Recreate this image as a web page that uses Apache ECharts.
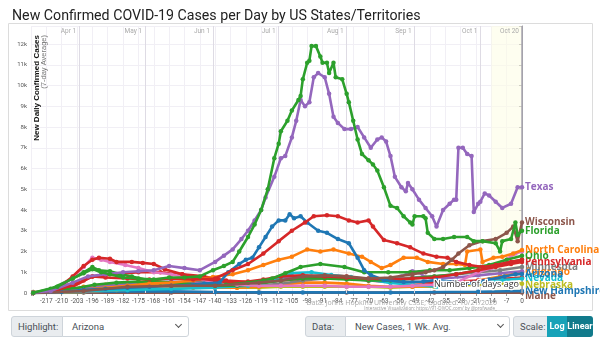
<!DOCTYPE html>
<html>
<head>
<meta charset="utf-8">
<script src="https://cdn.jsdelivr.net/npm/echarts@6/dist/echarts.min.js"></script>
<style>
html,body{margin:0;padding:0;background:#fff;}
#chart{position:absolute;left:0;top:0;width:600px;height:342px;}
.ctl{position:absolute;top:316px;height:21px;box-sizing:border-box;font-family:Roboto,'Noto Sans',sans-serif;font-size:9.5px;line-height:19px;color:#495057;border:1px solid #ced4da;white-space:nowrap;}
.lab{background:#e9ecef;padding-left:6px;}
.sel{background:#fff;padding-left:9px;}
.chev{position:absolute;top:5px;width:4px;height:4px;border-right:1.3px solid #555;border-bottom:1.3px solid #555;transform:rotate(45deg);}
.btn{color:#fff;font-weight:bold;text-align:center;border:none;font-size:9px;line-height:21px;}
</style>
</head>
<body>
<div id="chart"></div>
<div class="ctl lab" style="left:11px;width:52px;border-radius:3px 0 0 3px;">Highlight:</div>
<div class="ctl sel" style="left:62px;width:127px;border-radius:0 3px 3px 0;">Arizona<span class="chev" style="left:113px"></span></div>
<div class="ctl lab" style="left:305px;width:41px;border-radius:3px 0 0 3px;">Data:</div>
<div class="ctl sel" style="left:345px;width:165px;border-radius:0 3px 3px 0;">New Cases, 1 Wk. Avg.<span class="chev" style="left:152px"></span></div>
<div class="ctl lab" style="left:513px;width:35px;border-radius:3px 0 0 3px;">Scale:</div>
<div class="ctl btn" style="left:547px;width:20px;background:#17a2b8;">Log</div>
<div class="ctl btn" style="left:567px;width:26px;background:#117a8b;border-radius:0 3px 3px 0;">Linear</div>
<script>
// ---- axis ticks ----
const MONTH_DAYS = [-202, -172, -141, -111, -80, -49, -19, 0];
const MONTH_LABELS = ['Apr 1', 'May 1', 'Jun 1', 'Jul 1', 'Aug 1', 'Sep 1', 'Oct 1', 'Oct 20'];
const RECENT_START = -14;

// ---- series values: [days ago, thousands of cases / day (7-day avg)] ----
const TEXAS = [[-223,0.02],[-215,0.1],[-205,0.5],[-198,0.8],[-190,0.9],[-182,1.0],[-175,1.05],[-168,1.1],[-161,1.3],[-154,1.2],[-147,1.1],[-140,1.5],[-136,1.8],[-132,2.1],[-128,2.6],[-125,3.0],[-122,3.5],[-119,4.0],[-117,4.6],[-113,5.6],[-110,6.5],[-108,6.6],[-105,7.5],[-103,8.3],[-101,9.3],[-99,9.0],[-97,9.2],[-95,10.4],[-93,10.6],[-90,10.4],[-88,9.6],[-86,8.5],[-84,8.2],[-81,7.9],[-78,7.9],[-75,8.0],[-72,7.5],[-69,7.0],[-66,7.4],[-64,7.5],[-62,7.3],[-60,6.6],[-58,5.6],[-55,5.1],[-53,4.9],[-52,5.3],[-50,5.0],[-47,4.5],[-44,4.1],[-41,3.7],[-39,3.2],[-36,4.0],[-33,4.3],[-31,4.5],[-30,4.5],[-29,7.0],[-27,7.0],[-25,6.7],[-23,6.6],[-22,3.9],[-20,4.3],[-19,4.4],[-17,4.8],[-15,4.7],[-12,4.4],[-9,4.1],[-5,4.3],[-2,5.1],[0,5.1]];
const FLORIDA = [[-223,0.01],[-212,0.3],[-205,0.7],[-200,0.95],[-196,1.15],[-192,1.0],[-188,0.9],[-182,0.75],[-175,0.7],[-168,0.65],[-161,0.75],[-154,0.75],[-147,0.8],[-141,1.1],[-136,1.3],[-132,1.5],[-129,2.0],[-125,2.7],[-122,3.3],[-119,4.0],[-116,5.0],[-113,6.5],[-111,7.2],[-110,7.8],[-107,8.3],[-105,8.8],[-102,9.3],[-101,9.5],[-100,10.3],[-98,11.1],[-97,11.2],[-96,11.9],[-94,11.9],[-92,11.4],[-91,11.1],[-89,11.1],[-88,10.6],[-86,11.1],[-85,10.4],[-82,10.3],[-80,9.6],[-79,9.2],[-77,8.3],[-75,7.4],[-73,6.7],[-70,6.4],[-68,6.2],[-66,5.9],[-63,5.1],[-60,4.2],[-57,4.1],[-54,3.7],[-51,3.4],[-50,3.3],[-49,3.7],[-45,3.7],[-44,3.6],[-43,2.9],[-40,2.6],[-36,2.6],[-31,2.7],[-25,2.7],[-22,2.5],[-18,2.5],[-12,2.4],[-10,2.0],[-9,2.5],[-5,2.6],[-3,3.4],[-2,2.8],[0,3.0]];
const WISCONSIN = [[-223,0],[-200,0.1],[-180,0.3],[-160,0.35],[-140,0.35],[-120,0.5],[-110,0.6],[-100,0.8],[-90,0.85],[-80,0.8],[-70,0.7],[-60,0.75],[-50,0.9],[-44,1.0],[-40,1.1],[-36,1.25],[-32,1.6],[-29,1.9],[-24,2.3],[-18,2.5],[-12,2.6],[-7,2.9],[-4,3.2],[-2,2.5],[0,3.4]];
const ARIZONA = [[-223,0],[-210,0.05],[-200,0.15],[-190,0.2],[-180,0.25],[-170,0.3],[-160,0.35],[-150,0.4],[-145,0.45],[-138,0.5],[-134,1.0],[-129,1.4],[-126,1.6],[-123,1.7],[-120,2.2],[-117,2.7],[-114,3.2],[-111,3.5],[-108,3.5],[-106,3.8],[-104,3.6],[-101,3.7],[-98,3.4],[-93,3.0],[-89,2.9],[-84,2.6],[-79,2.4],[-75,1.7],[-72,1.1],[-69,0.87],[-63,0.63],[-54,0.53],[-45,0.55],[-39,0.63],[-30,0.53],[-27,0.4],[-22,0.5],[-15,0.65],[-8,0.8],[-3,0.9],[0,0.92]];
const GEORGIA = [[-223,0],[-213,0.1],[-205,0.4],[-200,0.6],[-196,0.8],[-190,0.75],[-180,0.7],[-170,0.65],[-160,0.7],[-150,0.65],[-140,0.7],[-132,1.1],[-125,1.4],[-118,1.9],[-111,2.5],[-105,3.0],[-99,3.4],[-95,3.7],[-89,3.75],[-84,3.7],[-79,3.5],[-75,3.4],[-70,3.5],[-68,3.2],[-63,2.55],[-57,2.4],[-51,2.2],[-45,1.9],[-39,1.75],[-34,1.7],[-30,1.5],[-24,1.35],[-18,1.25],[-12,1.35],[-5,1.5],[0,1.6]];
const PENNSYLVANIA = [[-223,0],[-212,0.2],[-205,0.8],[-200,1.3],[-196,1.6],[-193,1.7],[-188,1.65],[-185,1.5],[-178,1.5],[-173,1.45],[-168,1.4],[-163,1.15],[-155,0.9],[-147,0.7],[-140,0.6],[-133,0.5],[-125,0.55],[-118,0.65],[-110,0.8],[-100,0.85],[-90,0.8],[-80,0.75],[-70,0.7],[-60,0.65],[-50,0.7],[-40,0.75],[-30,0.9],[-20,1.1],[-12,1.25],[-5,1.4],[0,1.5]];
const MARYLAND = [[-223,0],[-205,0.3],[-196,0.8],[-185,0.9],[-175,1.0],[-165,1.0],[-155,0.9],[-145,0.8],[-135,0.6],[-120,0.5],[-100,0.7],[-90,0.85],[-80,0.8],[-70,0.6],[-60,0.55],[-40,0.5],[-20,0.6],[0,0.75]];
const NORTH_CAROLINA = [[-223,0.05],[-210,0.05],[-200,0.15],[-190,0.25],[-180,0.35],[-170,0.45],[-160,0.5],[-150,0.6],[-141,0.77],[-132,0.9],[-125,1.1],[-118,1.35],[-111,1.6],[-105,1.75],[-98,2.1],[-92,2.0],[-86,2.1],[-79,1.9],[-73,1.75],[-69,1.5],[-64,1.2],[-60,1.35],[-54,1.7],[-48,1.7],[-43,1.5],[-36,1.4],[-30,1.4],[-26,1.35],[-25,2.0],[-19,2.1],[-18,1.5],[-13,1.7],[-9,1.75],[-4,1.9],[0,2.07]];
const OHIO = [[-223,0],[-205,0.2],[-195,0.4],[-185,0.5],[-175,0.55],[-165,0.5],[-155,0.45],[-145,0.4],[-135,0.4],[-125,0.5],[-118,0.6],[-114,0.7],[-108,0.95],[-101,1.25],[-92,1.4],[-81,1.25],[-72,1.0],[-61,1.0],[-51,1.0],[-42,1.1],[-33,1.1],[-24,1.2],[-15,1.35],[-7,1.6],[0,1.8]];
const MICHIGAN = [[-223,0],[-215,0.2],[-205,0.7],[-200,1.0],[-196,1.25],[-193,1.1],[-188,1.05],[-183,0.9],[-178,0.8],[-170,0.6],[-160,0.5],[-150,0.4],[-140,0.35],[-130,0.35],[-120,0.45],[-110,0.6],[-100,0.7],[-90,0.7],[-80,0.65],[-70,0.6],[-60,0.6],[-50,0.7],[-40,0.8],[-30,0.9],[-20,1.1],[-10,1.4],[0,1.6]];
const ILLINOIS = [[-223,0],[-215,0.1],[-208,0.5],[-205,0.77],[-200,1.25],[-196,1.7],[-192,1.6],[-188,1.5],[-181,1.35],[-175,1.2],[-168,1.0],[-160,0.9],[-150,0.7],[-140,0.55],[-130,0.4],[-120,0.35],[-110,0.35],[-100,0.35],[-90,0.35],[-80,0.3],[-70,0.3],[-60,0.3],[-50,0.35],[-40,0.4],[-30,0.5],[-20,1.0],[-14,1.2],[-9,1.5],[-3,1.9],[0,2.0]];
const MINNESOTA = [[-223,0],[-200,0.05],[-180,0.15],[-160,0.4],[-150,0.6],[-140,0.5],[-130,0.4],[-120,0.35],[-110,0.45],[-100,0.6],[-90,0.7],[-80,0.7],[-70,0.65],[-60,0.65],[-50,0.75],[-40,0.8],[-30,0.9],[-20,1.0],[-10,1.1],[0,1.25]];
const INDIANA = [[-223,0],[-200,0.2],[-185,0.4],[-170,0.5],[-160,0.55],[-150,0.5],[-140,0.4],[-130,0.35],[-120,0.5],[-110,0.7],[-100,0.8],[-90,0.75],[-80,0.7],[-70,0.6],[-60,0.55],[-55,0.8],[-50,1.05],[-47,1.0],[-44,0.75],[-40,0.7],[-30,0.75],[-20,0.85],[-10,0.95],[0,1.05]];
const COLORADO = [[-223,0],[-210,0.1],[-200,0.3],[-190,0.4],[-180,0.4],[-170,0.35],[-160,0.3],[-150,0.25],[-140,0.25],[-130,0.25],[-120,0.3],[-110,0.4],[-100,0.5],[-90,0.5],[-80,0.45],[-70,0.35],[-60,0.3],[-50,0.3],[-40,0.35],[-30,0.45],[-20,0.6],[-10,0.8],[0,1.0]];
const NEVADA = [[-223,0.05],[-200,0.1],[-180,0.15],[-160,0.2],[-140,0.25],[-125,0.35],[-118,0.5],[-113,0.6],[-105,0.96],[-96,1.0],[-87,0.87],[-78,0.77],[-69,0.63],[-60,0.48],[-50,0.4],[-39,0.3],[-30,0.4],[-20,0.48],[-9,0.63],[0,0.7]];
const NEBRASKA = [[-223,0],[-200,0.05],[-185,0.15],[-175,0.35],[-165,0.45],[-155,0.45],[-147,0.4],[-140,0.35],[-130,0.25],[-120,0.25],[-110,0.3],[-100,0.3],[-90,0.3],[-80,0.3],[-70,0.3],[-60,0.25],[-50,0.3],[-40,0.3],[-30,0.35],[-20,0.4],[-10,0.45],[0,0.45]];
const NEW_HAMPSHIRE = [[-223,0],[-200,0.05],[-180,0.08],[-160,0.08],[-140,0.05],[-120,0.03],[-100,0.03],[-60,0.02],[-20,0.06],[0,0.1]];
const MAINE = [[-223,0],[-200,0.02],[-160,0.03],[-120,0.02],[-80,0.02],[-40,0.02],[0,0.02]];

// [name, values, colour, labelled, label nudge (px)]
const STATES = [
  ['Maine', MAINE, '#8c564b', true, 4],
  ['New Hampshire', NEW_HAMPSHIRE, '#1f77b4', true, 0],
  ['Nebraska', NEBRASKA, '#bcbd22', true, 1.5],
  ['Colorado', COLORADO, '#ff7f0e', true, 0],
  ['Indiana', INDIANA, '#9467bd', false, 0],
  ['Minnesota', MINNESOTA, '#7f7f7f', true, 0],
  ['Maryland', MARYLAND, '#d62728', false, 0],
  ['Nevada', NEVADA, '#17becf', true, 0],
  ['Michigan', MICHIGAN, '#2ca02c', false, 0],
  ['Illinois', ILLINOIS, '#e377c2', false, 0],
  ['Pennsylvania', PENNSYLVANIA, '#d62728', true, 0],
  ['Ohio', OHIO, '#2ca02c', true, 0],
  ['North Carolina', NORTH_CAROLINA, '#ff7f0e', true, 0],
  ['Arizona', ARIZONA, '#1f77b4', true, 0],
  ['Georgia', GEORGIA, '#d62728', false, 0],
  ['Wisconsin', WISCONSIN, '#8c564b', true, 0],
  ['Texas', TEXAS, '#9467bd', true, 0],
  ['Florida', FLORIDA, '#2ca02c', true, 0]
];

const chart = echarts.init(document.getElementById('chart'), null, {renderer: 'canvas'});
const FONT = "Roboto, 'Noto Sans', sans-serif";

const series = STATES.map(([name, data, color, labeled, nudge], i) => ({
  name: name,
  type: 'line',
  data: data,
  color: color,
  z: 3 + i,
  symbol: 'circle',
  symbolSize: 4.5,
  showSymbol: true,
  showAllSymbol: true,
  lineStyle: {width: 2.6, color: color},
  itemStyle: {color: color},
  emphasis: {disabled: true},
  endLabel: labeled ? {
    show: true, formatter: '{a}', color: color, fontSize: 10, fontWeight: 'bold',
    fontFamily: "'Open Sans', sans-serif", distance: 3, offset: [0, nudge]
  } : {show: false}
}));

// month lines + recent-days band
series.push({
  name: 'guides', type: 'line', data: [], z: 1, silent: true,
  markLine: {
    silent: true, symbol: 'none', animation: false, label: {show: false},
    lineStyle: {color: '#dedbe4', width: 1, type: 'solid'},
    data: MONTH_DAYS.map(d => ({xAxis: d, lineStyle: d === 0 ? {color: '#a9a6b2', width: 1.5, type: 'solid'} : undefined}))
  },
  markArea: {
    silent: true, itemStyle: {color: 'rgba(254,254,228,0.55)'},
    data: [[{xAxis: RECENT_START}, {xAxis: 0}]]
  }
});

chart.setOption({
  animation: false,
  textStyle: {fontFamily: FONT},
  title: {
    text: 'New Confirmed COVID-19 Cases per Day by US States/Territories',
    left: 7, top: 4,
    textStyle: {fontSize: 14.2, fontWeight: 'normal', color: '#222', fontFamily: FONT}
  },
  grid: {left: 31, right: 78, top: 26, bottom: 49},
  xAxis: [{
    type: 'value', min: -224, max: 0, interval: 7,
    axisLine: {show: true, lineStyle: {color: '#999'}},
    axisTick: {show: true, length: 3, lineStyle: {color: '#999'}},
    axisLabel: {fontSize: 6.5, color: '#555', margin: 5, formatter: v => v === -224 ? '' : String(v)},
    splitLine: {show: true, lineStyle: {color: '#f1eff5', width: 1}}
  }, {
    type: 'value', min: -224, max: 0, position: 'top', z: 20,
    axisLine: {show: false}, axisTick: {show: false}, splitLine: {show: false},
    axisLabel: {
      show: true, inside: true, customValues: MONTH_DAYS, fontSize: 6.5, color: '#aaa', margin: 2,
      align: 'right', padding: [0, 3, 0, 0],
      formatter: v => MONTH_LABELS[MONTH_DAYS.indexOf(v)] || ''
    }
  }],
  yAxis: {
    type: 'value', min: 0, max: 12.87, interval: 1,
    axisLine: {show: true, lineStyle: {color: '#999'}},
    axisTick: {show: true, length: 3, lineStyle: {color: '#999'}},
    axisLabel: {fontSize: 6, color: '#555', margin: 4, formatter: v => v === 0 ? '0' : (Number.isInteger(v) ? v + 'k' : '')},
    splitLine: {show: true, lineStyle: {color: '#f1eff5', width: 1}}
  },
  graphic: [
    {type: 'rect', silent: true, z: -10, shape: {x: 8.5, y: 23.5, width: 584, height: 287}, style: {fill: 'none', stroke: '#dcdcdc', lineWidth: 1}},
    {type: 'text', silent: true, z: 50, x: 37, y: 35, rotation: Math.PI / 2,
      style: {text: 'New Daily Confirmed Cases', fill: '#111', font: "bold 8px 'Liberation Sans', Arial, sans-serif", align: 'right', verticalAlign: 'middle'}},
    {type: 'text', silent: true, z: 50, x: 44, y: 35, rotation: Math.PI / 2,
      style: {text: '(7-day Average)', fill: '#777', font: "7.5px 'Liberation Sans', Arial, sans-serif", align: 'right', verticalAlign: 'middle'}},
    {type: 'text', silent: true, z: 60, x: 519, y: 284,
      style: {text: 'Number of days ago', fill: '#333', font: "9px 'Open Sans', sans-serif", align: 'right', verticalAlign: 'middle', stroke: '#fff', lineWidth: 2.5}},
    {type: 'text', silent: true, z: 60, x: 497, y: 303,
      style: {text: 'Data: Johns Hopkins University CSSE; Updated: 10/21/2020', fill: '#aaa', font: "7px 'Open Sans', sans-serif", align: 'right', verticalAlign: 'middle'}},
    {type: 'text', silent: true, z: 60, x: 497, y: 309,
      style: {text: 'Interactive Visualization: https://91-DIVOC.com/ by @profwade_', fill: '#999', font: "4.5px 'Open Sans', sans-serif", align: 'right', verticalAlign: 'middle'}}
  ],
  series: series
});
</script>
</body>
</html>
